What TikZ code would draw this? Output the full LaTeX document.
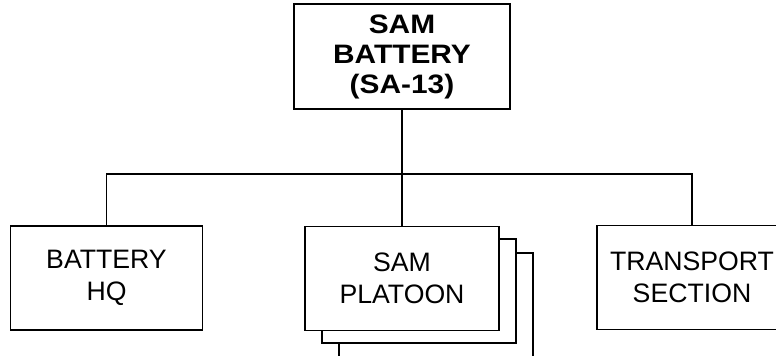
\documentclass[tikz,border=0pt]{standalone}
\usepackage{fontspec}
\setmainfont{Liberation Sans}
\newfontfamily\widesans[FakeStretch=1.12]{Liberation Sans}
\usepackage{tikz}
\usetikzlibrary{positioning, calc}
\definecolor{orgblack}{RGB}{0, 0, 0}
\tikzset{
  unit/.style={
    draw=orgblack,
    line width=1.4pt,
    fill=white,
    rectangle,
    align=center,
    inner sep=0pt,
    minimum width=144pt,
    minimum height=78pt,
    font=\fontsize{20}{24}\selectfont\color{orgblack}
  },
  hqunit/.style={
    unit,
    minimum width=162pt,
    minimum height=78.5pt,
    font=\fontsize{20}{22.5}\widesans\bfseries\color{orgblack}
  },
  link/.style={
    draw=orgblack,
    line width=1.4pt
  }
}

\begin{document}
\begin{tikzpicture}[x=0.75pt, y=-0.75pt]
          \useasboundingbox (0, 0) rectangle (776, 355);
          \clip (0, 0) rectangle (776, 355);
          \node[hqunit] (bty) at (402, 56.5) {SAM\\BATTERY\\(SA-13)};
          \coordinate (bar) at (402, 174);

          \node[unit] (hq) at (106.5, 278) {BATTERY\\HQ};
          \node[unit, minimum width=145.5pt] (plc) at (436, 305) {};
          \node[unit, minimum width=145.5pt] (plb) at (419, 291) {};
          \node[unit, minimum width=145.5pt] (pla) at (402, 278.5) {SAM\\PLATOON};
          \node[unit, minimum width=142.5pt] (tpt) at (692, 277.5) {TRANSPORT\\SECTION};

          \draw[link] (bty) -- (bar);
          \draw[link] (hq.north) |- (bar) -| (tpt.north);
          \draw[link] (bar) -- (pla.north);
        \end{tikzpicture}
\end{document}
